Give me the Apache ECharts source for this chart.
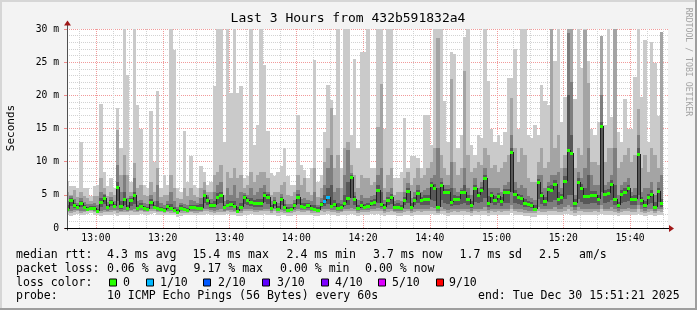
<!DOCTYPE html>
<html><head><meta charset="utf-8">
<script src="https://cdn.jsdelivr.net/npm/echarts@6/dist/echarts.min.js"></script>
<style>html,body{margin:0;padding:0;background:#f3f3f3}#c{width:697px;height:310px}</style>
</head><body><div id="c"></div>
<script>
// ---------- data ----------
const firstStepEnd = 52;            // minutes after 12:00 of the end of the first step (12:52)
const axisMin = 51.35, axisMax = 231.35; // 12:51:21 .. 15:51:21
const timeLabels = [60, 80, 100, 120, 140, 160, 180, 200, 220];
const gridMinutes = [55,60,65,70,75,80,85,90,95,100,105,110,115,120,125,130,135,140,145,150,155,160,165,170,175,180,185,190,195,200,205,210,215,220,225,230];

const median = [
2.9,4.2,3.4,3.15,3.8,3.15,2.9,3.05,3.05,2.55,
3.95,4.55,3.2,3.9,3.3,6.2,3.3,4.4,3.0,4.2,
4.9,3.05,3.3,2.95,2.9,3.9,3.2,3.05,2.9,2.7,
3.3,3.05,2.7,2.4,3.05,2.8,2.7,3.15,3.2,3.05,
3.05,4.9,4.2,3.4,3.4,4.7,4.9,3.15,3.45,3.55,
3.3,2.55,3.2,4.65,4.15,3.9,3.8,3.8,3.7,5.05,
4.7,3.05,3.9,2.9,4.4,3.15,2.7,2.8,3.4,4.7,
3.3,3.2,3.45,3.05,2.9,2.7,3.55,4.0,4.6,3.3,
3.55,3.05,3.15,3.8,4.55,7.7,4.3,3.05,3.45,3.15,
3.3,3.8,3.9,5.8,3.65,3.15,4.15,4.65,3.2,3.2,
3.05,4.2,5.55,3.15,4.2,5.3,4.15,4.4,4.4,6.55,
6.05,3.2,6.55,5.4,5.4,3.95,4.4,4.3,5.45,5.45,
4.3,3.4,6.05,4.9,5.7,7.55,3.8,5.05,4.2,4.8,
4.05,5.4,5.4,11.45,5.2,4.7,4.55,3.7,3.55,3.4,
2.9,6.9,4.9,4.05,5.9,5.7,6.7,4.3,4.7,7.05,
11.8,11.3,3.8,7.0,6.05,4.8,4.8,4.9,5.05,4.4,
15.4,5.2,5.3,6.7,4.3,3.4,5.2,5.4,6.05,4.3,
4.4,11.15,4.2,3.4,4.7,5.2,3.2,5.55,3.7];

const lossCount = [
0,0,0,0,0,0,0,0,0,0, 0,0,0,0,0,0,0,0,0,0, 0,0,0,0,0,0,0,0,0,0,
0,0,0,0,0,0,0,0,0,0, 0,0,0,0,0,0,0,0,0,0, 0,0,0,0,0,0,0,0,0,0,
0,0,0,0,0,0,0,0,0,0, 0,0,0,0,0,0,0,1,1,0, 0,0,0,0,0,0,0,0,0,0,
0,0,0,0,0,0,0,0,0,0, 0,0,0,0,0,0,0,0,0,0, 0,0,0,0,0,0,0,0,0,0,
0,0,0,0,0,0,0,0,0,0, 0,0,0,0,0,0,0,0,0,0, 0,0,0,0,0,0,0,0,0,0,
0,0,0,0,0,0,0,0,0,0, 0,0,0,0,0,0,0,0,0];

// sorted ping values per step (ms): ping1 lowest ... ping10 highest
const ping1 = [
2.0,1.8,2.0,2.1,1.9,2.0,2.1,2.2,2.0,1.9, 1.8,1.9,2.0,2.0,2.1,1.8,2.0,1.9,2.0,2.0,
1.9,2.0,2.1,2.0,2.0,2.1,2.2,2.0,2.0,1.9, 2.0,1.9,2.0,1.7,1.8,1.9,2.0,2.0,1.9,1.9,
2.0,2.0,2.1,2.0,1.9,2.0,1.9,2.0,2.1,1.9, 2.0,1.8,1.8,2.0,2.0,2.1,2.0,1.9,2.0,2.1,
2.0,1.9,2.0,1.8,2.0,1.9,1.8,1.8,2.0,2.0, 1.9,2.0,2.0,1.9,1.8,1.8,2.0,1.9,2.1,2.0,
2.0,1.8,1.9,2.0,2.0,2.1,2.0,1.8,1.9,1.9, 2.0,2.1,2.0,2.1,2.0,1.8,1.9,2.0,1.9,1.8,
1.8,1.9,2.0,1.8,1.9,2.0,1.9,2.0,2.0,2.1, 2.0,1.9,2.1,2.0,1.8,1.9,2.0,1.9,2.0,2.0,
1.9,1.8,2.0,1.9,2.0,2.0,1.8,1.9,1.9,2.0, 1.9,2.0,2.0,2.2,2.0,1.9,1.9,1.8,1.8,1.7,
1.7,2.0,1.9,1.9,2.0,2.0,2.0,1.9,1.9,2.1, 2.1,2.0,1.8,2.0,2.0,1.9,1.9,1.9,2.0,1.9,
2.1,2.0,2.0,2.0,1.9,1.8,1.9,2.0,2.0,1.9, 1.9,2.1,1.9,1.8,1.9,2.0,1.8,2.0,1.9];
const ping2 = [
2.4,2.3,2.4,2.5,2.3,2.4,2.5,2.5,2.4,2.2, 2.3,2.4,2.4,2.4,2.5,2.3,2.4,2.4,2.4,2.5,
2.4,2.4,2.5,2.4,2.4,2.5,2.6,2.4,2.4,2.3, 2.4,2.3,2.3,2.1,2.2,2.3,2.3,2.4,2.3,2.3,
2.4,2.5,2.5,2.4,2.3,2.4,2.4,2.4,2.5,2.4, 2.4,2.2,2.3,2.5,2.5,2.5,2.4,2.4,2.5,2.6,
2.5,2.3,2.5,2.3,2.4,2.3,2.2,2.3,2.4,2.5, 2.4,2.4,2.5,2.3,2.3,2.2,2.5,2.4,2.6,2.4,
2.4,2.3,2.4,2.5,2.5,2.6,2.5,2.3,2.4,2.4, 2.4,2.6,2.5,2.6,2.5,2.3,2.4,2.5,2.4,2.3,
2.3,2.4,2.5,2.3,2.4,2.5,2.4,2.5,2.5,2.6, 2.5,2.3,2.6,2.5,2.3,2.4,2.5,2.4,2.5,2.5,
2.4,2.3,2.5,2.4,2.5,2.6,2.3,2.5,2.4,2.5, 2.4,2.5,2.5,2.8,2.5,2.4,2.4,2.3,2.3,2.2,
2.2,2.6,2.4,2.4,2.5,2.5,2.6,2.4,2.4,2.6, 2.8,2.6,2.3,2.6,2.5,2.4,2.4,2.4,2.5,2.4,
2.8,2.5,2.5,2.6,2.4,2.3,2.4,2.5,2.6,2.4, 2.4,2.8,2.4,2.3,2.4,2.5,2.3,2.5,2.4];
const ping3 = [
2.6,2.6,2.7,2.7,2.6,2.6,2.6,2.7,2.6,2.4, 2.6,2.7,2.6,2.7,2.7,2.7,2.6,2.7,2.6,2.7,
2.8,2.6,2.7,2.6,2.6,2.8,2.8,2.6,2.6,2.5, 2.6,2.5,2.5,2.3,2.5,2.5,2.5,2.6,2.6,2.5,
2.6,2.8,2.8,2.7,2.6,2.7,2.8,2.6,2.7,2.7, 2.6,2.4,2.6,2.8,2.8,2.8,2.7,2.7,2.7,2.9,
2.8,2.5,2.8,2.5,2.7,2.6,2.4,2.5,2.7,2.8, 2.7,2.7,2.7,2.6,2.5,2.4,2.8,2.8,2.9,2.7,
2.7,2.6,2.6,2.8,2.9,3.0,2.8,2.6,2.7,2.7, 2.7,2.9,2.9,3.0,2.8,2.6,2.8,2.9,2.6,2.6,
2.5,2.8,2.9,2.6,2.8,2.9,2.8,2.9,2.9,3.1, 3.0,2.6,3.1,2.9,2.7,2.8,2.9,2.8,2.9,2.9,
2.8,2.6,2.9,2.8,2.9,3.1,2.7,2.9,2.8,2.9, 2.8,2.9,2.9,3.4,2.9,2.8,2.8,2.7,2.6,2.5,
2.5,3.1,2.8,2.8,2.9,2.9,3.1,2.8,2.8,3.1, 3.4,3.2,2.7,3.1,2.9,2.8,2.8,2.8,2.9,2.8,
3.5,2.9,2.9,3.1,2.8,2.6,2.8,2.9,3.0,2.8, 2.8,3.4,2.8,2.6,2.8,2.9,2.6,2.9,2.8];
const ping4 = [
2.7,3.3,3.0,2.9,3.1,2.9,2.7,2.9,2.8,2.45, 3.2,3.6,2.9,3.3,3.0,4.0,2.9,3.4,2.8,3.3,
3.6,2.8,3.0,2.8,2.75,3.3,2.9,2.8,2.7,2.6, 2.9,2.7,2.6,2.35,2.8,2.65,2.6,2.9,2.9,2.8,
2.8,3.8,3.5,3.0,3.0,3.6,3.7,2.9,3.1,3.1, 3.0,2.5,2.9,3.6,3.4,3.3,3.2,3.2,3.2,3.9,
3.6,2.7,3.3,2.7,3.5,2.9,2.55,2.65,3.0,3.6, 3.0,2.9,3.0,2.8,2.7,2.55,3.1,3.3,3.6,3.0,
3.1,2.8,2.9,3.3,3.5,4.5,3.4,2.8,3.0,2.9, 3.0,3.3,3.3,3.8,3.2,2.9,3.4,3.6,2.9,2.9,
2.8,3.4,3.8,2.9,3.4,3.8,3.4,3.5,3.5,4.2, 4.0,2.9,4.2,3.8,3.6,3.3,3.5,3.4,3.6,3.8,
3.4,3.0,3.9,3.7,3.9,4.5,3.2,3.8,3.4,3.7, 3.3,3.8,3.8,5.5,3.7,3.6,3.5,3.2,3.1,3.0,
2.75,4.3,3.6,3.3,3.9,3.9,4.2,3.4,3.6,4.3, 5.0,5.0,3.2,4.3,3.9,3.6,3.6,3.7,3.8,3.4,
5.5,3.8,3.9,4.2,3.4,3.0,3.8,3.9,4.0,3.4, 3.5,5.0,3.4,3.0,3.6,3.8,2.9,3.9,3.2];
const ping7 = [
3.4,4.5,3.8,3.5,4.1,3.5,3.2,3.3,3.3,2.9, 4.5,4.9,3.5,4.2,3.6,7.0,4.0,5.5,3.5,4.5,
5.5,3.5,3.7,3.3,3.2,4.3,3.5,4.0,3.2,3.0, 3.6,3.6,3.2,2.8,3.4,3.1,3.0,3.5,3.5,3.4,
3.6,5.2,4.6,3.8,4.0,5.3,5.5,3.5,4.2,4.0, 4.0,3.2,3.8,5.0,4.5,4.5,4.2,4.3,4.3,5.5,
5.1,3.4,4.2,3.3,4.7,3.6,3.1,3.2,3.8,5.1, 3.7,3.7,3.8,3.4,3.5,3.1,3.9,5.0,6.0,6.5,
4.2,3.8,3.6,5.0,7.0,8.0,4.8,3.5,4.0,3.6, 3.8,4.2,4.3,6.5,5.5,3.6,4.6,5.1,3.6,3.7,
3.5,4.7,6.0,3.7,4.7,5.8,4.6,4.9,5.0,7.0, 6.6,6.0,7.0,5.9,5.9,6.0,4.9,4.8,5.8,6.5,
4.9,4.0,6.5,5.4,6.2,8.0,4.8,5.5,4.8,5.3, 4.6,5.9,5.9,12.0,5.7,5.2,5.0,4.3,4.0,3.9,
3.4,7.4,5.5,4.6,6.4,6.5,7.2,5.5,5.2,7.8, 20.0,14.0,4.3,7.5,6.6,6.0,8.0,5.6,5.6,5.0,
16.0,5.7,5.9,7.2,6.5,3.9,5.7,6.0,6.5,4.8, 5.0,12.0,4.7,4.0,5.2,5.8,3.9,6.1,4.3];
const ping8 = [
4.0,4.8,4.3,3.8,4.5,3.9,3.6,3.6,3.7,3.4, 5.5,5.2,3.9,4.6,4.0,9.5,5.5,8.0,4.5,4.8,
7.5,4.0,4.2,3.7,3.6,5.0,4.0,6.5,3.7,3.5, 4.0,5.5,4.0,3.2,3.7,3.6,3.4,4.2,4.0,3.8,
4.5,5.8,5.0,4.3,5.5,6.5,7.0,4.0,6.0,5.0, 6.5,4.5,5.5,5.3,5.0,6.0,5.0,5.5,6.0,6.5,
5.5,4.0,4.7,3.8,5.2,4.2,3.6,3.6,4.2,5.8, 4.3,4.5,4.2,4.0,5.5,3.5,4.5,6.5,9.0,11.0,
5.5,6.0,4.2,8.0,11.7,8.3,5.5,4.2,5.0,4.5, 4.5,4.8,5.0,8.0,9.0,4.2,5.5,6.0,4.0,4.2,
4.0,5.5,6.8,4.5,5.5,6.5,5.5,5.8,6.0,7.5, 8.0,12.0,7.5,6.5,6.5,10.0,6.0,5.5,6.0,9.0,
6.0,5.0,7.5,6.0,7.0,9.0,6.0,6.0,6.0,6.0, 5.5,6.5,7.0,14.0,7.0,6.0,6.5,6.0,4.8,4.5,
4.2,8.0,8.0,6.0,7.0,8.0,8.0,8.5,6.0,9.0, 29.4,22.0,5.0,8.5,7.5,9.0,12.0,8.0,6.5,6.5,
20.0,6.5,7.0,8.0,12.0,5.0,6.5,7.0,7.5,5.5, 6.0,14.0,5.5,6.0,6.0,7.0,5.0,7.0,8.0];
const ping9 = [
5.5,5.0,5.8,4.6,5.5,4.8,4.5,4.0,4.8,4.8, 7.5,6.0,4.8,5.5,5.0,14.8,8.0,11.0,8.0,5.5,
9.8,6.0,6.5,5.0,4.8,7.0,5.5,9.0,4.6,5.0, 5.0,8.0,6.0,4.5,4.4,6.0,4.8,6.0,5.0,4.6,
6.0,7.0,5.5,5.5,8.0,8.5,9.5,5.0,8.5,7.5, 9.0,7.5,8.0,6.0,6.5,8.5,7.0,8.0,8.5,8.5,
7.5,5.0,5.5,5.5,6.5,7.0,5.0,4.8,5.5,8.0, 6.5,7.5,5.5,5.0,9.0,4.6,6.0,10.0,12.0,18.1,
9.0,11.0,6.0,12.0,13.0,9.5,8.0,6.0,8.0,7.5, 7.5,6.5,7.0,15.3,21.7,6.0,8.0,9.0,5.0,5.5,
5.5,7.5,8.5,6.5,7.5,9.0,7.5,8.0,9.0,10.0, 12.0,28.7,11.0,9.0,8.0,22.5,10.0,8.0,9.0,23.6,
11.0,8.5,9.0,10.0,9.5,12.0,11.0,9.0,9.5,8.5, 9.0,10.0,11.0,19.6,12.0,10.0,12.0,11.0,7.5,7.0,
7.0,10.0,12.0,9.0,10.0,30,12.0,14.0,9.0,11.0, 30,30,9.0,12.0,11.0,29.8,21.8,10.0,10.0,9.5,
28.9,10.0,12.0,12.0,30,9.0,10.0,11.0,12.0,10.0, 11.0,18.0,9.0,11.0,8.5,12.0,11.0,9.0,29.6];
const ping10 = [
7.1,6.3,6.3,6.0,13.0,6.0,6.0,4.8,6.3,6.5, 18.7,8.5,6.3,7.5,6.0,18.1,12.0,30,23.1,7.0,
30,18.5,15.0,6.5,6.0,17.6,10.0,20.6,6.0,8.0, 6.5,30,26.8,6.0,5.5,14.6,7.0,10.8,6.5,6.0,
9.3,8.5,6.5,7.0,21.4,30,30,13.0,30,20.4, 30,20.3,21.4,7.5,7.8,30,12.5,15.6,30,24.6,
14.6,8.3,7.8,8.5,9.3,12.0,7.8,6.5,6.5,17.1, 9.5,8.8,7.5,9.0,25.4,7.0,8.0,14.5,21.6,19.3,
17.0,30,9.0,30,30,14.0,25.5,12.0,26.6,26.6, 30,9.0,9.0,30,30,15.0,30,30,7.5,7.5,
8.5,16.6,9.0,10.8,10.8,10.5,9.0,17.1,17.1,12.5, 30,30,30,19.1,13.0,26.5,26.3,12.0,14.0,28.8,
30,12.5,11.0,14.0,13.5,30,22.1,15.0,13.0,14.0, 12.5,14.5,22.6,22.6,27.0,15.0,30,30,14.0,13.5,
15.5,14.0,21.6,19.2,18.6,30,25.2,30,16.0,19.7, 30,30,19.4,30,24.1,30,25.2,15.0,14.0,16.0,
28.9,15.5,30,16.7,30,14.5,13.0,19.5,15.0,15.0, 22.8,30,19.7,28.3,13.0,28.1,24.9,16.9,29.6];

// legend / text
const titleText = 'Last 3 Hours from 432b591832a4';
const unitText = 'Seconds';
const watermarkText = 'RRDTOOL / TOBI OETIKER';
const rowLabels = ['median rtt:', 'packet loss:', 'loss color:', 'probe:'];
const rttStats = ['4.3 ms avg', '15.4 ms max', '2.4 ms min', '3.7 ms now', '1.7 ms sd', '2.5', 'am/s'];
const lossStats = ['0.06 % avg', '9.17 % max', '0.00 % min', '0.00 % now'];
const lossLevels = [0, 1, 2, 3, 4, 5, 9];
const lossNames = ['0', '1/10', '2/10', '3/10', '4/10', '5/10', '9/10'];
const lossColors = ['#26ff00', '#00b8ff', '#0059ff', '#5e00ff', '#7e00ff', '#dd00ff', '#ff0000'];
const probeText = '10 ICMP Echo Pings (56 Bytes) every 60s';
const endText = 'end: Tue Dec 30 15:51:21 2025';

// ---------- layout / style (not data) ----------
const MONO = 'DejaVu Sans Mono';
const LEG_FS = 11.55, LEG_X0 = 16;
const smokeColors = ['#cacaca', '#a4a4a4', '#7e7e7e', '#585858'];
const rttX = [107, 192.5, 286.5, 373, 459.5, 539, 579];
const lossX = [107, 193.5, 280, 365];
const probeX = 107, endX = 478;
const boxX = [109, 146, 203, 262, 321, 378, 436];
const boxLabelX = [123, 160, 218, 277, 335, 392, 449];
const rowY = [255, 268.5, 282.5, 296];

function lossColor(n) {
  let c = lossColors[0];
  for (let k = 0; k < lossLevels.length; k++) if (n >= lossLevels[k]) c = lossColors[k];
  return c;
}
function fmtTime(v) {
  const h = Math.floor(v / 60) + 12, m = Math.round(v % 60);
  return h + ':' + (m < 10 ? '0' : '') + m;
}

const smokeRows = median.map((m, i) => [firstStepEnd + i, ping1[i], ping2[i], ping3[i], ping4[i], ping7[i], ping8[i], ping9[i], ping10[i]]);
const medianRows = median.map((m, i) => [firstStepEnd + i, m, i > 0 ? median[i - 1] : m, lossCount[i]]);

const chart = echarts.init(document.getElementById('c'), null, {renderer: 'canvas', width: 697, height: 310});

function rectClip(params, shape) {
  const cs = params.coordSys;
  return echarts.graphic.clipRectByRect(shape, {x: cs.x, y: cs.y, width: cs.width, height: cs.height});
}

const option = {
  animation: false,
  backgroundColor: '#f3f3f3',
  grid: {left: 67, top: 29, width: 601, height: 199, show: true, backgroundColor: '#ffffff', borderWidth: 0},
  xAxis: {
    type: 'value', min: axisMin, max: axisMax,
    axisLine: {show: false}, axisTick: {show: false}, splitLine: {show: false},
    axisLabel: {customValues: timeLabels, formatter: fmtTime, fontFamily: MONO, fontSize: 9.7, color: '#000', margin: 5}
  },
  yAxis: {
    type: 'value', min: 0, max: 30, interval: 5,
    axisLine: {show: false},
    axisTick: {show: true, length: 3, lineStyle: {color: '#f08a8a'}},
    axisLabel: {formatter: v => v === 0 ? '0' : v + ' m', fontFamily: MONO, fontSize: 9.7, color: '#000', margin: 8},
    splitLine: {show: true, lineStyle: {color: '#f19a9a', type: 'dotted', width: 1}},
    minorTick: {show: false, splitNumber: 5},
    minorSplitLine: {show: true, lineStyle: {color: '#d2d2d2', type: 'dotted', width: 1}}
  },
  series: [
    {
      type: 'custom', z: 1, silent: true,
      data: gridMinutes.map(m => [m, 0]), encode: {x: 0, y: 1},
      renderItem: (params, api) => {
        const t = api.value(0);
        const a = api.coord([t, 30]), b = api.coord([t, 0]);
        const x = Math.round(a[0]) + 0.5;
        return {type: 'line', shape: {x1: x, y1: a[1], x2: x, y2: b[1]},
          style: {stroke: t % 20 === 0 ? '#f19a9a' : '#d2d2d2', lineWidth: 1, lineDash: [1, 1]}};
      }
    },
    {
      type: 'custom', z: 2, silent: true,
      data: smokeRows, encode: {x: 0, y: [1, 8]},
      renderItem: (params, api) => {
        const t = api.value(0);
        const xa = Math.round(api.coord([t - 1, 0])[0]);
        const xb = Math.round(api.coord([t, 0])[0]);
        const children = [];
        for (let k = 0; k < 4; k++) {
          const lo = api.value(1 + k), hi = api.value(8 - k);
          const y1 = Math.round(api.coord([t, hi])[1]);
          const y0 = Math.round(api.coord([t, lo])[1]);
          const shape = rectClip(params, {x: xa, y: y1, width: xb - xa, height: Math.max(1, y0 - y1)});
          if (shape) children.push({type: 'rect', shape, style: {fill: smokeColors[k]}});
        }
        return {type: 'group', children};
      }
    },
    {
      type: 'custom', z: 3, silent: true,
      data: medianRows, encode: {x: 0, y: 1},
      renderItem: (params, api) => {
        const cs = params.coordSys;
        const t = api.value(0);
        const xa = Math.max(cs.x, Math.round(api.coord([t - 1, 0])[0]));
        const xb = Math.round(api.coord([t, 0])[0]);
        const ym = Math.round(api.coord([t, api.value(1)])[1]);
        const yp = Math.round(api.coord([t, api.value(2)])[1]);
        return {type: 'group', children: [
          {type: 'line', shape: {x1: xa + 0.5, y1: yp, x2: xa + 0.5, y2: ym}, style: {stroke: '#202020', lineWidth: 1}},
          {type: 'line', shape: {x1: xa, y1: ym + 0.5, x2: xb, y2: ym + 0.5}, style: {stroke: '#202020', lineWidth: 1}},
          {type: 'rect', shape: {x: xa, y: ym - 1, width: xb - xa, height: 3}, style: {fill: lossColor(api.value(3))}}
        ]};
      }
    }
  ]
};
chart.setOption(option);

// ---------- decorations & legend text ----------
const tl = chart.convertToPixel({gridIndex: 0}, [axisMin, 30]);
const br = chart.convertToPixel({gridIndex: 0}, [axisMax, 0]);
const ax = Math.round(tl[0]) + 0.5, ay = Math.round(br[1]) + 0.5, ty = Math.round(tl[1]);
const rx = Math.round(br[0]);
const txt = (x, y, text, extra) => Object.assign({type: 'text', z: 100, x, y,
  style: Object.assign({text, fontFamily: MONO, fontSize: LEG_FS, fill: '#000', verticalAlign: 'middle', textAlign: 'left'}, extra || {})});

const g = [];
// frame
g.push({type: 'rect', z: 100, shape: {x: 0, y: 0, width: 697, height: 2}, style: {fill: '#d6d6d6'}});
g.push({type: 'rect', z: 100, shape: {x: 0, y: 0, width: 2, height: 310}, style: {fill: '#d6d6d6'}});
g.push({type: 'rect', z: 100, shape: {x: 695, y: 0, width: 2, height: 310}, style: {fill: '#9e9e9e'}});
g.push({type: 'rect', z: 100, shape: {x: 0, y: 308, width: 697, height: 2}, style: {fill: '#9e9e9e'}});
// axes
g.push({type: 'line', z: 100, shape: {x1: ax, y1: ay + 2, x2: ax, y2: ty - 4}, style: {stroke: '#505050', lineWidth: 1}});
g.push({type: 'line', z: 100, shape: {x1: ax - 3, y1: ay, x2: rx + 2, y2: ay}, style: {stroke: '#000', lineWidth: 1}});
g.push({type: 'polygon', z: 101, shape: {points: [[ax - 3.5, ty - 3.5], [ax + 3.5, ty - 3.5], [ax, ty - 8.5]]}, style: {fill: '#a01818'}});
g.push({type: 'polygon', z: 101, shape: {points: [[rx + 1, ay - 3.5], [rx + 1, ay + 3.5], [rx + 6, ay]]}, style: {fill: '#a01818'}});
// title & side texts
g.push(txt(348, 19, titleText, {fontSize: 13, textAlign: 'center'}));
g.push(Object.assign(txt(11, 128, unitText, {fontSize: 11, textAlign: 'center'}), {rotation: Math.PI / 2}));
g.push(Object.assign(txt(688, 62, watermarkText, {fontSize: 8.2, textAlign: 'center', fill: '#a3a3a3'}), {rotation: -Math.PI / 2}));
// legend rows
rowLabels.forEach((s, i) => g.push(txt(LEG_X0, rowY[i], s)));
rttStats.forEach((s, i) => g.push(txt(rttX[i], rowY[0], s)));
lossStats.forEach((s, i) => g.push(txt(lossX[i], rowY[1], s)));
lossNames.forEach((s, i) => {
  g.push({type: 'rect', z: 100, shape: {x: boxX[i] + 0.5, y: rowY[2] - 3.5, width: 7, height: 7},
    style: {fill: lossColors[i], stroke: '#000', lineWidth: 1}});
  g.push(txt(boxLabelX[i], rowY[2], s));
});
g.push(txt(probeX, rowY[3], probeText));
g.push(txt(endX, rowY[3], endText));

chart.setOption({graphic: g});
</script>
</body></html>
